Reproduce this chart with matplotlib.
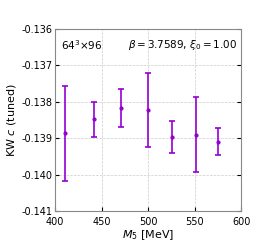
import numpy as np
import matplotlib
matplotlib.use("Agg")
import matplotlib.pyplot as plt

m5 = [411, 442, 471, 500, 526, 551, 575]
c_tuned = [-0.13887, -0.13848, -0.13818, -0.13822, -0.13896, -0.13890, -0.13910]
c_err = [0.00131, 0.00048, 0.00052, 0.00101, 0.00044, 0.00102, 0.00037]

fig, ax = plt.subplots(figsize=(2.75, 2.42), dpi=100)
ax.errorbar(m5, c_tuned, yerr=c_err, fmt='o', ms=2, color='#9400D3',
            ecolor='#9400D3', elinewidth=1.2, capsize=2.5, capthick=1.2)

ax.set_xlim(400, 600)
ax.set_ylim(-0.141, -0.136)
ax.set_xticks([400, 450, 500, 550, 600])
ax.set_yticks([-0.141, -0.140, -0.139, -0.138, -0.137, -0.136])
ax.yaxis.set_major_formatter(matplotlib.ticker.FormatStrFormatter('%.3f'))
ax.tick_params(direction='in', right=True, labelsize=7, length=3, pad=2)
ax.tick_params(axis='x', pad=4)
ax.grid(True, ls='--', lw=0.5, color='#cccccc')
for s in ax.spines.values():
    s.set_color('#888888')

ax.set_xlabel(r'$M_5$ [MeV]', fontsize=8, labelpad=1)
ax.set_ylabel(r'KW $c$ (tuned)', fontsize=8, labelpad=2)
ax.text(0.03, 0.95, r'$64^3{\times}96$', transform=ax.transAxes, fontsize=7.5, va='top')
ax.text(0.98, 0.95, r'$\beta=3.7589$, $\xi_0=1.00$', transform=ax.transAxes,
        fontsize=7.5, va='top', ha='right')

fig.subplots_adjust(left=0.2, right=0.877, top=0.88, bottom=0.128)
fig.savefig('out.png')
